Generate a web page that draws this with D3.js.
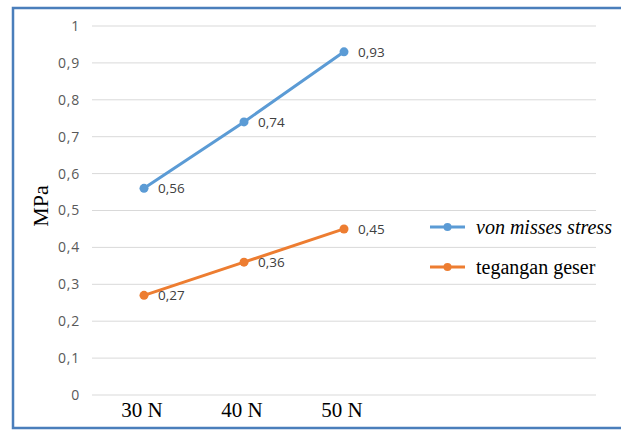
<!DOCTYPE html>
<html>
<head>
<meta charset="utf-8">
<script src="https://cdn.jsdelivr.net/npm/d3@7"></script>
<style>
  body { margin: 0; background: #fff; }
</style>
</head>
<body>
<div class="canvas"></div>
<script>
// chart values
const categories = ['30 N', '40 N', '50 N'];
const vonMisses = [0.56, 0.74, 0.93];
const teganganGeser = [0.27, 0.36, 0.45];
const yTicks = [0, 0.1, 0.2, 0.3, 0.4, 0.5, 0.6, 0.7, 0.8, 0.9, 1];
const seriesNames = ['von misses stress', 'tegangan geser'];

const series = [
  {name: seriesNames[0], values: vonMisses, color: '#5b9bd5', italic: true},
  {name: seriesNames[1], values: teganganGeser, color: '#ed7d31', italic: false}
];

const svg = d3.select('.canvas')
  .append('svg')
    .attr('width', 621)
    .attr('height', 430);

// outer frame (left, top, bottom edges only)
svg.append('path')
  .attr('d', 'M621,8 L13,8 L13,428 L621,428')
  .attr('fill', 'none')
  .attr('stroke', '#4a7ebb')
  .attr('stroke-width', 2.5);

const y = d3.scaleLinear()
  .domain([0, 1])
  .range([395, 26]);

const x = d3.scaleBand()
  .domain(categories)
  .range([94, 394]);

const fmt = v => String(v).replace('.', ',');

// gridlines
svg.append('g')
  .selectAll('line')
  .data(yTicks)
  .enter().append('line')
    .attr('x1', 92)
    .attr('x2', 596)
    .attr('y1', d => y(d))
    .attr('y2', d => y(d))
    .attr('stroke', '#d9d9d9')
    .attr('stroke-width', 1);

// y axis labels
const yAxis = d3.axisLeft(y)
  .tickValues(yTicks)
  .tickFormat(fmt)
  .tickSize(0)
  .tickPadding(0);

const yAxisGroup = svg.append('g')
  .attr('transform', 'translate(80,0)')
  .call(yAxis);
yAxisGroup.select('.domain').remove();
yAxisGroup.selectAll('text')
  .attr('font-family', 'Open Sans, sans-serif')
  .attr('font-size', 14)
  .attr('letter-spacing', 0.8)
  .attr('fill', '#595959');

// x axis labels
const xAxis = d3.axisBottom(x).tickSize(0).tickPadding(0);
const xAxisGroup = svg.append('g')
  .attr('transform', 'translate(-2,0)')
  .call(xAxis);
xAxisGroup.select('.domain').remove();
xAxisGroup.selectAll('text')
  .attr('y', 417)
  .attr('dy', null)
  .attr('font-family', 'Liberation Serif, Times New Roman, serif')
  .attr('font-size', 21)
  .attr('fill', '#000');

// y axis title
svg.append('text')
  .attr('transform', 'translate(48,206) rotate(-90)')
  .attr('text-anchor', 'middle')
  .attr('font-family', 'Liberation Serif, Times New Roman, serif')
  .attr('font-size', 22)
  .attr('fill', '#000')
  .text('MPa');

const line = d3.line()
  .x((d, i) => x(categories[i]) + x.bandwidth() / 2)
  .y(d => y(d));

series.forEach(s => {
  const g = svg.append('g');
  g.append('path')
    .datum(s.values)
    .attr('d', line)
    .attr('fill', 'none')
    .attr('stroke', s.color)
    .attr('stroke-width', 3);
  g.selectAll('circle')
    .data(s.values)
    .enter().append('circle')
      .attr('cx', (d, i) => x(categories[i]) + x.bandwidth() / 2)
      .attr('cy', d => y(d))
      .attr('r', 4.5)
      .attr('fill', s.color);
  g.selectAll('text')
    .data(s.values)
    .enter().append('text')
      .attr('x', (d, i) => x(categories[i]) + x.bandwidth() / 2 + 14)
      .attr('y', d => y(d) + 5)
      .attr('font-family', 'Open Sans, sans-serif')
      .attr('font-size', 13.5)
      .attr('fill', '#404040')
      .text(fmt);
});

// legend
const legend = svg.append('g')
  .selectAll('g')
  .data(series)
  .enter().append('g')
    .attr('transform', (d, i) => `translate(430, ${227 + i * 40})`);
legend.append('line')
  .attr('x1', 0).attr('x2', 35)
  .attr('stroke', d => d.color)
  .attr('stroke-width', 3);
legend.append('circle')
  .attr('cx', 17.5)
  .attr('r', 4)
  .attr('fill', d => d.color);
legend.append('text')
  .attr('x', 46)
  .attr('y', 7)
  .attr('font-family', 'Liberation Serif, Times New Roman, serif')
  .attr('font-size', 20)
  .attr('font-style', d => d.italic ? 'italic' : 'normal')
  .attr('fill', '#000')
  .text(d => d.name);
</script>
</body>
</html>
